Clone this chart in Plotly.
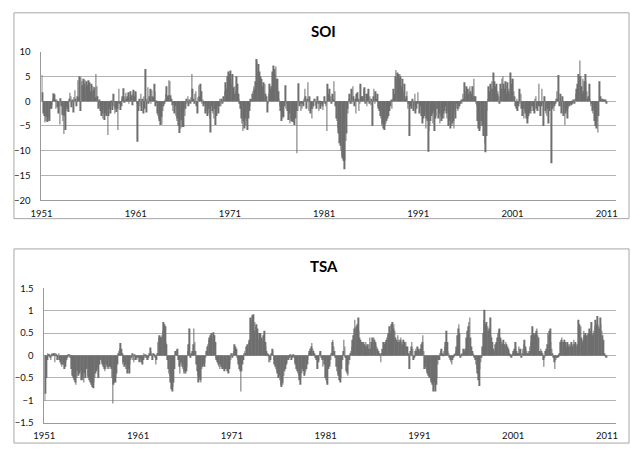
import plotly.graph_objects as go

# ---------------- DATA ----------------
tick_years = [1951, 1961, 1971, 1981, 1991, 2001, 2011]
tick_labels = ["1951", "1961", "1971", "1981", "1991", "2001", "2011"]
first_year = 1951

# SOI monthly values, one row per year
soi_1951_1960 = [
    [5.3, 1.8, -2.5, -3.0, -4.3, -4.0, -3.2, -4.2, -3.8, -3.5, -4.0, -1.5],
    [-1.5, -0.8, 0.5, 1.6, 1.4, 0.3, -1.5, 0.2, -1.2, -2.5, -1.0, -4.7],
    [0.6, -1.0, -2.8, -4.0, -6.6, -3.0, -5.8, -1.0, -2.0, -1.5, -2.2, 0.5],
    [1.7, 1.0, -1.2, 0.3, -2.3, 0.8, 2.2, 0.5, -1.0, 1.0, 4.2, 0.8],
    [5.0, -2.0, 4.8, 4.0, 3.2, 4.5, 3.5, 4.3, 2.8, 4.0, 3.2, 4.2],
    [2.5, 3.8, 2.0, 3.5, 1.8, 3.0, 2.2, 2.8, 0.8, 5.5, 3.0, 1.0],
    [-1.5, 0.2, -1.2, -2.0, -3.0, -2.5, -3.5, -1.8, -3.8, -2.5, -3.0, -1.5],
    [-6.8, -3.0, -1.5, -2.5, -1.0, -0.3, -1.8, 1.5, -1.0, -2.5, -1.5, -2.2],
    [-1.5, -5.8, 2.5, -0.5, -1.8, -1.0, 0.5, 1.0, 2.6, -0.3, 1.0, 1.7],
    [0.5, 1.0, 1.8, -0.5, 0.8, 2.0, 1.2, -0.8, 1.5, 2.3, 1.0, 2.0],
]
soi_1961_1970 = [
    [1.8, -0.5, -8.2, -2.0, 0.5, -1.0, 1.5, -2.0, 0.5, -2.5, 1.0, -1.5],
    [6.5, -2.3, 0.5, 2.8, -0.5, 1.0, 2.5, -0.5, 2.2, 1.0, 0.8, 3.5],
    [2.0, -1.0, -0.3, -2.5, -3.0, -3.5, -4.0, -4.8, -3.2, -4.7, -2.0, -1.0],
    [-0.5, 0.3, 1.5, 3.0, 1.0, 1.2, 4.2, 4.0, 1.2, 0.5, -0.8, -2.0],
    [-0.5, -2.5, -1.0, -3.0, -4.0, -3.5, -5.0, -6.4, -4.0, -5.5, -3.8, -5.2],
    [-5.2, -2.0, -3.0, -1.5, 0.5, -0.5, 1.0, -1.0, 0.3, -0.5, 0.8, 5.5],
    [2.5, 0.5, -0.5, 1.5, 2.0, -1.0, -2.5, 0.8, 3.2, 1.0, 3.5, 2.0],
    [-0.5, 0.2, -1.0, -0.5, -2.5, -1.0, -2.0, -3.0, -1.5, -2.5, -3.5, -6.3],
    [-1.0, -2.0, -2.5, -3.5, -1.5, -4.8, -3.0, -2.0, -1.0, -2.5, -1.0, 0.5],
    [-1.0, 0.5, -0.5, 1.0, 0.3, 2.0, 3.8, 2.5, 5.0, 4.0, 6.0, 5.5],
]
soi_1971_1980 = [
    [6.2, 4.5, 3.5, 5.5, 2.8, 1.5, 3.0, 2.0, 5.0, 3.5, 1.5, 0.5],
    [-0.5, -1.5, -3.5, -4.5, -6.0, -4.0, -5.5, -3.5, -5.0, -4.0, -5.8, -3.5],
    [-2.0, -1.0, 0.5, 0.3, 1.5, 2.0, 3.0, 2.5, 4.0, 8.5, 8.0, 6.0],
    [7.5, 6.0, 5.0, 3.5, 4.5, 3.0, 3.8, 2.0, 3.5, 1.5, 1.0, -2.3],
    [-0.5, 1.5, 3.5, 2.5, 3.0, 2.0, 6.0, 7.2, 6.5, 5.5, 7.0, 4.5],
    [4.5, 2.0, 0.5, -1.0, -2.0, -4.0, -3.0, -3.5, -3.2, -1.0, 3.2, -1.5],
    [-0.5, -2.0, -3.8, -2.5, -4.5, -3.5, -4.0, -4.2, -3.8, -4.5, -4.8, -3.5],
    [-2.0, -10.5, -2.0, 3.6, -1.0, -0.5, -2.0, -1.5, -0.5, -1.0, 0.5, 2.5],
    [1.0, -1.5, 0.5, 3.8, -2.0, 1.0, -2.5, -1.5, -3.5, -1.5, -1.0, 0.5],
    [0.5, -0.8, -1.5, 1.0, -0.5, -2.0, -0.3, -1.5, -0.5, -1.0, -1.8, -0.5],
]
soi_1981_1990 = [
    [1.0, -0.5, -1.0, -6.0, 3.5, 1.5, 2.5, 0.5, 1.0, -0.5, 1.5, 0.3],
    [4.0, 2.0, -1.0, -3.5, -4.0, -5.5, -6.5, -8.5, -9.0, -10.0, -11.0, -11.5],
    [-12.0, -13.7, -12.0, -8.0, -6.5, -1.5, -2.5, 0.5, 1.5, -0.5, 2.5, -0.5],
    [3.0, 1.0, -1.0, 0.5, -2.5, 1.5, 1.8, 0.5, -2.0, -0.5, 3.5, 1.0],
    [1.0, 0.5, 2.5, 2.8, -0.5, 1.5, -1.0, 1.5, 2.5, -0.5, 1.0, -0.8],
    [0.5, -5.0, 1.0, 2.5, -0.5, 2.0, 0.5, 1.5, -1.0, -1.5, -2.0, -3.0],
    [-3.5, -5.0, -4.5, -5.5, -5.8, -5.0, -4.5, -4.0, -3.5, -3.0, -1.5, -2.0],
    [-1.0, 0.3, -1.5, 0.5, 2.5, 1.5, 5.0, 6.3, 4.5, 5.8, 5.5, 4.5],
    [5.5, 5.0, 3.0, 4.5, 1.5, 2.0, 3.5, 0.5, 1.0, 2.0, -1.5, -0.5],
    [-7.0, -1.0, -0.5, -1.5, 0.5, -2.0, -1.0, 1.5, -2.5, -1.5, -0.5, 1.8],
]
soi_1991_2000 = [
    [-0.5, -2.5, -1.0, -3.0, -2.0, -4.5, -3.5, -3.0, -2.0, -5.5, -3.5, -4.0],
    [-10.2, -6.0, -5.0, -4.0, -3.0, -2.5, -4.5, -2.0, -6.0, -3.5, -3.0, -1.5],
    [-1.5, -3.5, -2.5, -4.5, -3.0, -4.0, -3.5, -2.5, -3.5, -2.0, -1.0, -2.5],
    [-3.5, -2.0, -5.0, -4.0, -5.5, -3.5, -5.0, -4.5, -4.0, -5.5, -2.0, -3.5],
    [-0.5, -1.5, -2.0, -1.5, -1.0, -0.5, 0.3, -0.5, 1.5, 0.5, 3.8, 1.0],
    [2.0, 3.0, 2.5, 1.5, 2.5, 3.0, 2.0, 1.5, 3.0, 1.0, 4.5, 1.0],
    [1.0, -0.5, -1.0, -4.0, -5.5, -6.0, -5.5, -5.0, -4.0, -5.0, -7.0, -6.0],
    [-8.5, -10.3, -7.0, -2.0, 0.5, 3.0, 2.0, 3.5, 2.5, 4.0, 2.5, 5.8],
    [4.0, 2.5, 3.0, 3.5, 1.5, 2.0, 1.0, -0.5, 3.5, 2.5, 4.5, 5.0],
    [3.5, 2.5, 4.0, 3.0, 1.5, 3.8, 2.0, 2.5, 1.5, 5.8, 3.5, 4.5],
]
soi_2001_2010 = [
    [4.5, 2.0, 1.0, -1.0, -1.5, 0.5, -2.0, -1.0, 2.5, -0.5, 1.5, -1.5],
    [-3.0, -1.5, -3.5, -2.0, -2.5, -3.5, -4.5, -3.5, -3.0, -2.5, -2.0, -2.5],
    [-1.0, -1.0, -2.0, -2.5, 0.5, 1.0, -1.5, -2.0, -1.0, 3.5, -1.0, -3.0],
    [-1.0, 2.5, -0.5, -5.0, 1.0, -2.0, -2.5, -3.0, -1.5, -4.5, -2.0, -1.5],
    [-0.5, -12.5, -1.5, -0.5, -2.0, -1.0, -0.5, 0.5, 2.0, 0.5, 5.3, -1.0],
    [1.5, -1.0, -2.5, 1.0, -3.0, -1.5, -4.8, -2.5, -2.0, -3.5, -1.5, -1.0],
    [-1.0, -0.5, -0.8, -0.3, -0.5, 0.3, -0.5, 0.5, 1.5, 2.5, 3.5, 5.5],
    [5.0, 8.2, 5.0, 3.0, 1.5, 4.5, 2.0, 4.0, 5.5, 4.0, 2.0, 0.5],
    [1.0, 3.5, 0.5, -1.0, -0.5, -2.0, -2.5, -1.5, -4.0, -5.0, -5.5, -4.0],
    [-6.3, -3.0, 4.0, 1.0, 0.5, 0.3, 0.5, 0.2, 0.3, 0.2, 0.3, -0.5],
]

# TSA monthly values, one row per year
tsa_1951_1960 = [
    [-1.0, -0.85, -0.5, -0.1, 0.05, 0.03, 0.03, -0.05, -0.1, 0.05, 0.02, 0.05],
    [0.05, -0.15, 0.05, 0.03, -0.1, -0.05, 0.05, -0.1, -0.15, -0.2, -0.25, -0.2],
    [-0.2, -0.3, -0.25, -0.15, -0.1, -0.05, 0.02, 0.03, 0.02, -0.05, -0.3, -0.45],
    [-0.45, -0.5, -0.55, -0.6, -0.65, -0.5, -0.35, -0.45, -0.4, -0.3, -0.35, -0.55],
    [-0.5, -0.55, -0.6, -0.4, -0.5, -0.3, -0.25, -0.45, -0.5, -0.55, -0.6, -0.55],
    [-0.65, -0.7, -0.73, -0.6, -0.5, -0.4, -0.35, -0.25, -0.3, -0.5, -0.2, -0.1],
    [-0.1, -0.15, -0.2, -0.25, -0.3, -0.35, -0.3, -0.2, -0.25, -0.3, -0.3, -0.25],
    [-0.25, -0.3, -0.5, -1.07, -0.65, -0.6, -0.6, -0.5, -0.4, -0.2, 0.05, 0.1],
    [0.15, 0.28, 0.15, 0.05, -0.2, -0.15, -0.25, -0.2, -0.3, -0.3, -0.4, -0.3],
    [-0.4, -0.2, -0.1, -0.05, 0.05, -0.1, -0.15, 0.03, -0.1, -0.05, -0.1, -0.05],
]
tsa_1961_1970 = [
    [-0.05, -0.15, -0.05, -0.1, -0.15, -0.2, -0.1, 0.05, -0.05, 0.03, -0.05, -0.1],
    [-0.1, -0.05, 0.05, 0.18, 0.1, 0.05, -0.1, 0.05, 0.03, -0.05, -0.2, -0.1],
    [0.05, 0.3, 0.4, 0.45, 0.42, 0.4, 0.45, 0.55, 0.75, 0.7, 0.65, 0.3],
    [0.25, -0.1, -0.3, -0.4, -0.45, -0.6, -0.75, -0.8, -0.7, -0.6, -0.3, 0.1],
    [0.1, 0.12, 0.15, -0.1, -0.25, -0.4, -0.2, -0.15, -0.25, -0.3, -0.4, -0.35],
    [-0.4, -0.35, -0.25, 0.1, 0.25, 0.6, -0.05, 0.02, 0.05, 0.1, 0.25, 0.6],
    [0.3, 0.1, -0.2, -0.35, -0.45, -0.6, -0.5, -0.55, -0.6, -0.3, -0.25, -0.2],
    [-0.25, -0.15, -0.05, 0.1, 0.2, 0.25, 0.35, 0.4, 0.45, 0.5, 0.45, 0.4],
    [0.52, 0.45, 0.3, -0.05, -0.1, -0.15, -0.2, -0.25, -0.3, -0.2, -0.25, -0.3],
    [-0.25, -0.3, -0.35, -0.3, -0.25, -0.3, -0.35, -0.4, -0.3, -0.2, -0.1, 0.05],
]
tsa_1971_1980 = [
    [-0.05, 0.05, 0.1, 0.25, 0.2, 0.15, -0.05, -0.1, -0.2, -0.3, -0.35, -0.8],
    [-0.35, -0.2, -0.1, 0.05, 0.1, 0.05, 0.2, 0.25, 0.2, 0.3, 0.35, 0.85],
    [0.7, 0.8, 0.9, 0.92, 0.55, 0.75, 0.65, 0.7, 0.6, 0.5, 0.35, 0.5],
    [0.5, 0.4, 0.3, 0.35, 0.45, 0.55, 0.3, 0.2, 0.1, 0.05, 0.02, -0.15],
    [-0.15, -0.1, 0.05, 0.15, 0.1, -0.1, -0.2, -0.25, -0.3, -0.35, -0.4, -0.5],
    [-0.45, -0.55, -0.65, -0.7, -0.6, -0.65, -0.45, -0.35, -0.3, -0.2, -0.15, -0.1],
    [-0.1, -0.05, 0.02, 0.0, -0.1, -0.05, 0.02, -0.05, -0.15, -0.2, -0.3, -0.35],
    [-0.4, -0.45, -0.55, -0.65, -0.5, -0.4, -0.3, -0.35, -0.45, -0.4, -0.35, -0.3],
    [-0.2, -0.1, 0.05, 0.1, 0.15, 0.2, 0.28, 0.15, 0.1, 0.05, -0.05, -0.05],
    [-0.1, -0.3, -0.15, -0.1, 0.05, 0.1, -0.05, -0.1, -0.25, -0.1, -0.2, -0.5],
]
tsa_1981_1990 = [
    [-0.55, -0.6, -0.65, -0.3, -0.25, -0.2, -0.1, 0.05, 0.3, 0.35, 0.2, 0.1],
    [-0.05, -0.25, -0.35, -0.4, -0.45, -0.55, -0.6, -0.5, -0.3, -0.1, 0.1, 0.35],
    [0.2, -0.05, -0.35, -0.4, -0.45, -0.2, -0.1, 0.05, 0.1, 0.2, 0.35, 0.45],
    [0.6, 0.8, 0.6, 0.65, 0.7, 0.85, 0.55, 0.4, 0.35, 0.3, 0.25, 0.3],
    [0.3, 0.25, 0.2, 0.3, 0.2, 0.25, 0.15, 0.25, 0.4, 0.15, 0.3, 0.4],
    [0.3, 0.4, 0.35, 0.3, 0.25, 0.2, 0.15, 0.1, 0.05, 0.02, -0.15, 0.05],
    [0.15, 0.3, 0.2, 0.25, 0.3, 0.35, 0.4, 0.45, 0.5, 0.65, 0.5, 0.55],
    [0.7, 0.75, 0.6, 0.7, 0.55, 0.4, 0.35, 0.3, 0.45, 0.35, 0.3, 0.35],
    [0.4, 0.3, 0.25, 0.35, 0.3, 0.25, 0.3, 0.2, 0.2, 0.05, 0.02, -0.3],
    [0.1, 0.2, 0.3, 0.15, -0.1, -0.05, 0.1, 0.15, 0.1, 0.2, 0.15, 0.1],
]
tsa_1991_2000 = [
    [0.1, 0.15, 0.25, 0.3, 0.45, 0.1, -0.3, -0.25, -0.3, -0.35, -0.4, -0.45],
    [-0.5, -0.5, -0.55, -0.6, -0.65, -0.8, -0.7, -0.6, -0.8, -0.65, -0.5, -0.2],
    [-0.1, -0.1, 0.05, 0.1, 0.15, 0.05, 0.02, 0.1, 0.2, 0.3, 0.55, 0.3],
    [0.1, 0.05, -0.05, -0.1, -0.15, -0.2, -0.1, -0.05, 0.02, 0.05, 0.1, 0.2],
    [0.45, 0.6, 0.7, 0.5, -0.05, 0.02, 0.05, 0.05, 0.15, 0.1, 0.15, 0.1],
    [0.4, 0.55, 0.65, 0.75, 0.85, 0.4, 0.2, 0.1, 0.05, 0.02, -0.05, -0.1],
    [-0.2, -0.3, -0.4, -0.55, -0.68, -0.3, -0.15, -0.05, 0.2, 0.5, 0.8, 1.02],
    [0.7, 0.75, 0.6, 0.65, 0.55, 0.6, 0.85, 0.45, 0.4, 0.3, 0.15, 0.1],
    [0.1, 0.25, 0.3, 0.4, 0.5, 0.55, 0.6, 0.4, 0.35, 0.3, 0.25, 0.35],
    [0.25, 0.2, 0.3, 0.25, 0.2, 0.15, 0.1, 0.05, 0.02, -0.05, 0.02, 0.05],
]
tsa_2001_2010 = [
    [0.1, 0.15, 0.3, 0.2, 0.1, 0.05, 0.05, 0.2, 0.15, 0.15, -0.05, 0.05],
    [0.15, 0.25, 0.35, 0.2, 0.15, 0.1, 0.05, 0.05, 0.1, 0.2, 0.3, 0.45],
    [0.65, 0.5, 0.45, 0.45, 0.5, 0.55, 0.6, 0.45, 0.4, 0.1, 0.05, 0.15],
    [0.1, 0.05, -0.1, -0.25, -0.05, 0.1, 0.15, 0.25, 0.5, 0.45, 0.55, 0.6],
    [0.3, 0.15, 0.05, -0.05, -0.15, -0.3, -0.1, -0.05, -0.05, -0.02, 0.02, 0.05],
    [0.3, 0.35, 0.4, 0.3, 0.3, 0.35, 0.3, 0.25, 0.2, 0.3, 0.2, 0.25],
    [0.25, 0.2, 0.3, 0.2, 0.25, 0.35, 0.25, 0.3, 0.15, 0.2, 0.25, 0.8],
    [0.7, 0.6, 0.65, 0.4, 0.3, 0.35, 0.55, 0.45, 0.5, 0.45, 0.4, 0.45],
    [0.5, 0.6, 0.5, 0.55, 0.75, 0.45, 0.5, 0.55, 0.65, 0.8, 0.7, 0.88],
    [0.7, 0.65, 0.6, 0.85, 0.7, 0.55, 0.45, 0.35, 0.05, 0.02, -0.03, -0.05],
]

# ---------------- BUILD ----------------
def flatten(*blocks):
    xs, ys = [], []
    year = first_year
    for block in blocks:
        for row in block:
            for m, v in enumerate(row):
                xs.append(year + (m + 0.5) / 12.0)
                ys.append(v)
            year += 1
    return xs, ys

soi_x, soi_y = flatten(soi_1951_1960, soi_1961_1970, soi_1971_1980,
                       soi_1981_1990, soi_1991_2000, soi_2001_2010)
tsa_x, tsa_y = flatten(tsa_1951_1960, tsa_1961_1970, tsa_1971_1980,
                       tsa_1981_1990, tsa_1991_2000, tsa_2001_2010)

W, H = 631, 450
BAR = "#6e6e6e"
GRID = "#b3b3b3"
AXIS = "#9a9a9a"
FONT = "Lato, 'Open Sans', sans-serif"

fig = go.Figure()
fig.add_trace(go.Bar(x=soi_x, y=soi_y, width=1 / 12 * 0.8, marker=dict(color=BAR, line=dict(width=0)),
                     xaxis="x", yaxis="y", showlegend=False, hoverinfo="x+y"))
fig.add_trace(go.Bar(x=tsa_x, y=tsa_y, width=1 / 12 * 0.8, marker=dict(color=BAR, line=dict(width=0)),
                     xaxis="x2", yaxis="y2", showlegend=False, hoverinfo="x+y"))

def px_x(p):
    return p / W

def px_y(p):
    return 1 - p / H

xcommon = dict(range=[1951, 2012], tickmode="array", tickvals=tick_years, ticktext=tick_labels,
               showgrid=False, zeroline=False, showline=True, linecolor=AXIS, linewidth=1,
               ticks="", tickfont=dict(family=FONT, size=9.5, color="#111111"),
               ticklabelstandoff=4, fixedrange=True)
ycommon = dict(showgrid=True, gridcolor=GRID, gridwidth=1, zeroline=False, showline=True,
               linecolor=AXIS, linewidth=1, ticks="",
               tickfont=dict(family=FONT, size=9.5, color="#111111"),
               ticklabelstandoff=8, fixedrange=True)

fig.update_layout(
    width=W, height=H,
    margin=dict(l=0, r=0, t=0, b=0),
    paper_bgcolor="white", plot_bgcolor="white",
    barmode="overlay",
    xaxis=dict(xcommon, domain=[px_x(31), px_x(617)], anchor="y"),
    yaxis=dict(ycommon, domain=[px_y(199.3), px_y(46.7)], range=[-20, 10], dtick=5, tick0=0, anchor="x"),
    xaxis2=dict(xcommon, domain=[px_x(34), px_x(617)], anchor="y2"),
    yaxis2=dict(ycommon, domain=[px_y(427.3), px_y(289.3)], range=[-1.5, 1.5], dtick=0.5, tick0=0,
                anchor="x2"),
    shapes=[
        dict(type="rect", xref="paper", yref="paper", x0=px_x(3), x1=px_x(630), y0=px_y(218), y1=px_y(7),
             line=dict(color="#a6a6a6", width=1), fillcolor="rgba(0,0,0,0)", layer="below"),
        dict(type="rect", xref="paper", yref="paper", x0=px_x(3), x1=px_x(630), y0=px_y(448), y1=px_y(249),
             line=dict(color="#a6a6a6", width=1), fillcolor="rgba(0,0,0,0)", layer="below"),
    ],
    annotations=[
        dict(text="<b>SOI</b>", xref="paper", yref="paper", x=px_x(319), y=px_y(26), showarrow=False,
             xanchor="center", yanchor="middle", font=dict(family=FONT, size=15, color="#000000")),
        dict(text="<b>TSA</b>", xref="paper", yref="paper", x=px_x(319), y=px_y(267), showarrow=False,
             xanchor="center", yanchor="middle", font=dict(family=FONT, size=15, color="#000000")),
    ],
)

fig.write_html("out.html")
